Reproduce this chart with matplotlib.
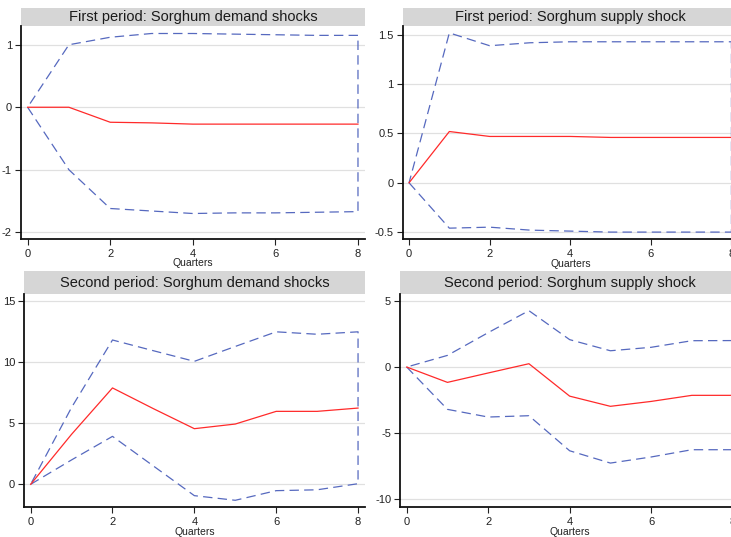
import matplotlib
matplotlib.use("Agg")
import matplotlib.pyplot as plt
from matplotlib.patches import Rectangle
from matplotlib.ticker import FuncFormatter

plt.rcParams["font.family"] = ["Liberation Sans", "DejaVu Sans"]

quarters = [0, 1, 2, 3, 4, 5, 6, 7, 8]

titles = [
    "First period: Sorghum demand shocks",
    "First period: Sorghum supply shock",
    "Second period: Sorghum demand shocks",
    "Second period: Sorghum supply shock",
]

# impulse responses and confidence bounds
p1_irf = [0, 0.0, -0.24, -0.25, -0.27, -0.27, -0.27, -0.27, -0.27]
p1_upper = [0, 1.00, 1.12, 1.18, 1.18, 1.17, 1.16, 1.15, 1.15]
p1_lower = [0, -1.00, -1.62, -1.66, -1.70, -1.69, -1.69, -1.68, -1.67]

p2_irf = [0, 0.52, 0.47, 0.47, 0.47, 0.46, 0.46, 0.46, 0.46]
p2_upper = [0, 1.52, 1.39, 1.42, 1.43, 1.43, 1.43, 1.43, 1.43]
p2_lower = [0, -0.46, -0.45, -0.48, -0.49, -0.50, -0.50, -0.50, -0.50]

p3_irf = [0, 4.1, 7.9, 6.2, 4.56, 4.94, 5.98, 5.98, 6.25]
p3_upper = [0, 6.3, 11.83, 10.95, 10.08, 11.3, 12.5, 12.3, 12.5]
p3_lower = [0, 2.0, 3.93, 1.5, -0.93, -1.31, -0.52, -0.45, 0.05]

p4_irf = [0, -1.16, -0.45, 0.25, -2.2, -2.97, -2.6, -2.14, -2.14]
p4_upper = [0, 0.88, 2.6, 4.26, 2.07, 1.23, 1.49, 1.99, 2.0]
p4_lower = [0, -3.2, -3.78, -3.68, -6.33, -7.26, -6.8, -6.25, -6.25]

x_ticks = [0, 2, 4, 6, 8]
y_ticks = [
    [-2, -1, 0, 1],
    [-0.5, 0, 0.5, 1, 1.5],
    [0, 5, 10, 15],
    [-10, -5, 0, 5],
]
y_limits = [(-2.1, 1.3), (-0.57, 1.59), (-1.86, 15.6), (-10.58, 5.52)]

W, H = 731, 537
fig = plt.figure(figsize=(W / 100, H / 100), dpi=100)
fig.patch.set_facecolor("white")

# axes boxes in pixels: left, right, top, bottom
boxes = [
    (21, 365, 26, 238.5),
    (402.6, 738.3, 26, 239),
    (24.1, 365, 294, 507),
    (400.2, 739.5, 294, 507),
]
band_tops = [8, 8, 271, 271]

series = [
    (p1_irf, p1_upper, p1_lower),
    (p2_irf, p2_upper, p2_lower),
    (p3_irf, p3_upper, p3_lower),
    (p4_irf, p4_upper, p4_lower),
]

fmt = FuncFormatter(lambda v, pos: f"{v:g}")

for i, ((l, r, t, b), (irf, up, lo)) in enumerate(zip(boxes, series)):
    ax = fig.add_axes([l / W, 1 - b / H, (r - l) / W, (b - t) / H])
    ax.set_xlim(-0.16, 8.17)
    ax.set_ylim(*y_limits[i])
    ax.set_xticks(x_ticks)
    ax.set_yticks(y_ticks[i])
    ax.yaxis.set_major_formatter(fmt)
    ax.grid(axis="y", color="#e0e0e0", lw=0.9)
    ax.grid(axis="x", visible=False)
    ax.set_axisbelow(True)
    for s in ("top", "right"):
        ax.spines[s].set_visible(False)
    for s in ("left", "bottom"):
        ax.spines[s].set_color("#111111")
        ax.spines[s].set_linewidth(1.3)
    ax.tick_params(axis="both", length=4, width=0.8, color="#222222",
                   labelsize=8, labelcolor="#222222", pad=2.5)
    ax.tick_params(axis="x", pad=3.5)
    ax.set_xlabel("Quarters", fontsize=7.5, color="#222222", labelpad=-0.5)

    band_px = (t - band_tops[i])
    ax.add_patch(Rectangle((0, 1), 1, band_px / (b - t), transform=ax.transAxes,
                           facecolor="#d6d6d6", edgecolor="none", clip_on=False))
    ax.text(0.5, 1 + band_px / (b - t) / 2, titles[i], transform=ax.transAxes,
            ha="center", va="center", fontsize=10.5, color="#1a1a1a")

    band_x = quarters + quarters[::-1]
    band_y = lo + up[::-1]
    ln, = ax.plot(band_x, band_y, color="#5669bf", lw=0.9)
    ln.set_dashes((7.5, 4.2))
    ax.plot(quarters, irf, color="#ff2a2a", lw=0.9)

fig.savefig("out.png", dpi=100, facecolor="white")
